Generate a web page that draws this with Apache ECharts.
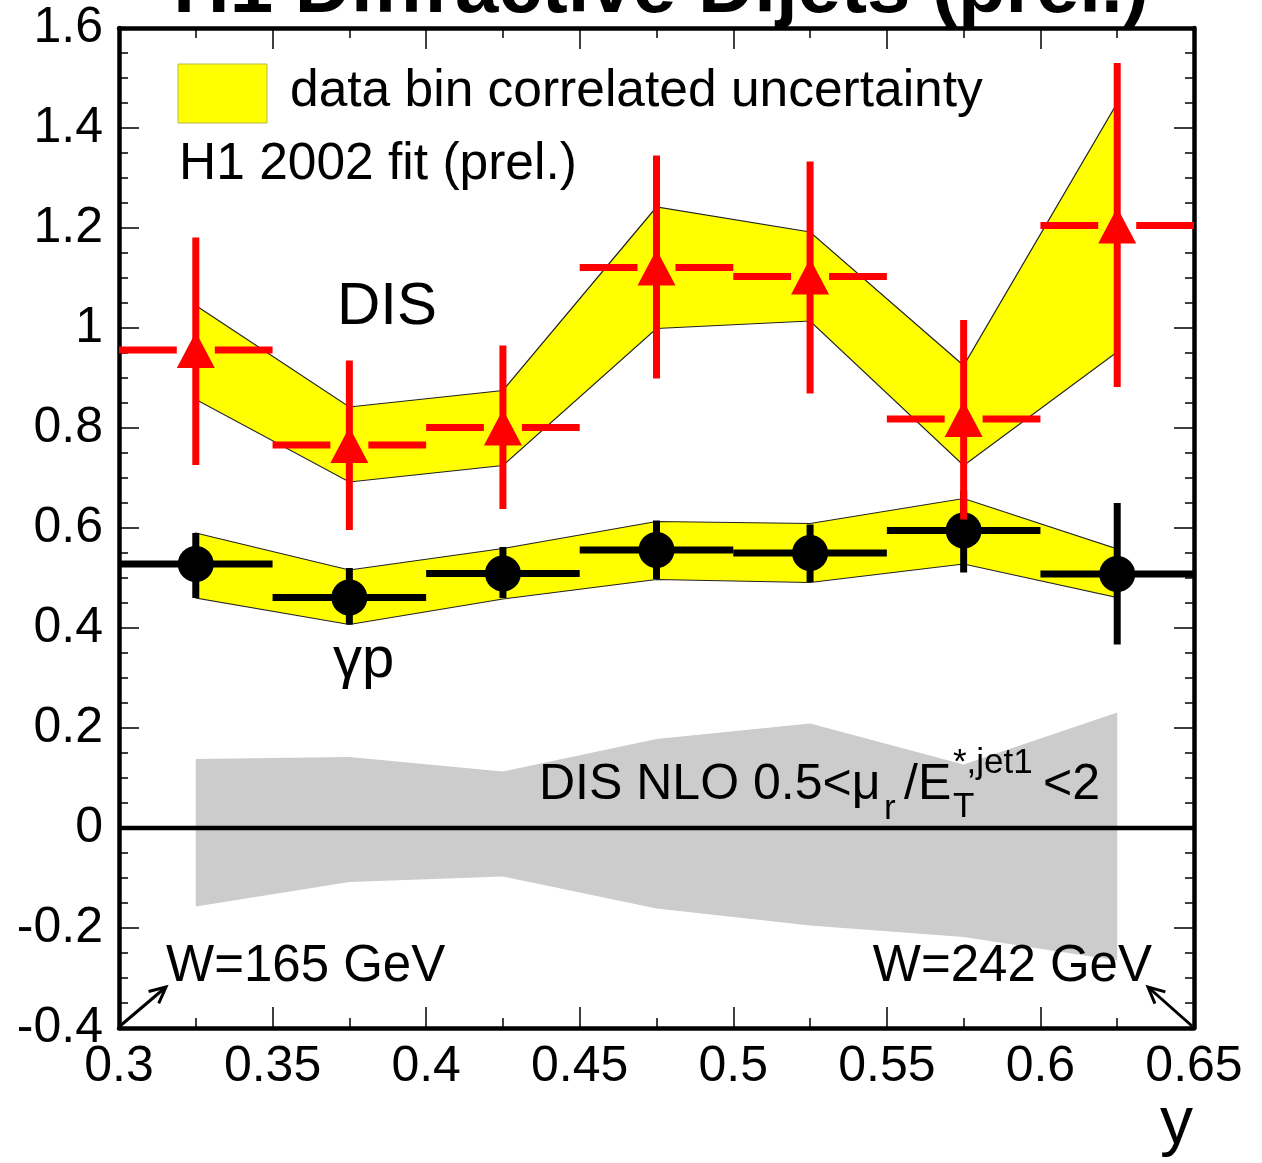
<!DOCTYPE html>
<html>
<head>
<meta charset="utf-8">
<script src="https://cdn.jsdelivr.net/npm/echarts@6/dist/echarts.min.js"></script>
<style>
html,body{margin:0;padding:0;background:#fff;}
#chart{width:1262px;height:1163px;}
</style>
</head>
<body>
<div id="chart"></div>
<script>
// ---- data ----
const yCenters = [0.325, 0.375, 0.425, 0.475, 0.525, 0.575, 0.625];
const binLow   = [0.30, 0.35, 0.40, 0.45, 0.50, 0.55, 0.60];
const binHigh  = [0.35, 0.40, 0.45, 0.50, 0.55, 0.60, 0.65];

const disVal    = [0.956, 0.766, 0.801, 1.121, 1.103, 0.818, 1.205];
const disErrHi  = [1.181, 0.935, 0.965, 1.345, 1.333, 1.016, 1.530];
const disErrLo  = [0.726, 0.596, 0.638, 0.899, 0.869, 0.617, 0.882];
const disBandHi = [1.045, 0.842, 0.875, 1.242, 1.192, 0.925, 1.450];
const disBandLo = [0.857, 0.692, 0.725, 0.999, 1.014, 0.725, 0.952];

const gpVal    = [0.528, 0.461, 0.509, 0.556, 0.550, 0.595, 0.508];
const gpErrHi  = [0.590, 0.520, 0.562, 0.615, 0.607, 0.675, 0.650];
const gpErrLo  = [0.460, 0.407, 0.460, 0.498, 0.492, 0.511, 0.367];
const gpBandHi = [0.590, 0.516, 0.559, 0.613, 0.609, 0.659, 0.558];
const gpBandLo = [0.460, 0.407, 0.458, 0.497, 0.491, 0.528, 0.461];

const nloHi = [0.138, 0.142, 0.113, 0.178, 0.209, 0.127, 0.231];
const nloLo = [-0.157, -0.108, -0.097, -0.161, -0.195, -0.218, -0.265];

const xTickLabels = ['0.3', '0.35', '0.4', '0.45', '0.5', '0.55', '0.6', '0.65'];
const yTickLabels = ['-0.4', '-0.2', '0', '0.2', '0.4', '0.6', '0.8', '1', '1.2', '1.4', '1.6'];
const zeroLine = [[0.3, 0], [0.65, 0]];

// ---- helpers ----
const FONT = 'Liberation Sans, Arial, Helvetica, sans-serif';
const MID = 0.3465; // alphabetic baseline offset below 'middle'

function bandRender(hi, lo, fill, stroke) {
  return function (params, api) {
    const pts = [];
    for (let i = 0; i < yCenters.length; i++) pts.push(api.coord([yCenters[i], hi[i]]));
    for (let i = yCenters.length - 1; i >= 0; i--) pts.push(api.coord([yCenters[i], lo[i]]));
    return {
      type: 'polygon',
      shape: { points: pts },
      style: { fill: fill, stroke: stroke || null, lineWidth: stroke ? 1.2 : 0 }
    };
  };
}

function errRender(color, gap) {
  return function (params, api) {
    const x = api.value(0), v = api.value(1), lo = api.value(2), hi = api.value(3);
    const xl = api.value(4), xh = api.value(5);
    const c = api.coord([x, v]);
    const top = api.coord([x, hi]);
    const bot = api.coord([x, lo]);
    const left = api.coord([xl, v]);
    const right = api.coord([xh, v]);
    const st = { stroke: color, lineWidth: 7, lineCap: 'butt' };
    return {
      type: 'group',
      children: [
        { type: 'line', shape: { x1: top[0], y1: top[1], x2: bot[0], y2: bot[1] }, style: st },
        { type: 'line', shape: { x1: left[0], y1: left[1], x2: c[0] - gap, y2: c[1] }, style: st },
        { type: 'line', shape: { x1: c[0] + gap, y1: c[1], x2: right[0], y2: right[1] }, style: st }
      ]
    };
  };
}

function errData(val, lo, hi) {
  return yCenters.map((x, i) => [x, val[i], lo[i], hi[i], binLow[i], binHigh[i]]);
}

function txt(str, x, baseline, size, opts) {
  opts = opts || {};
  return {
    type: 'text',
    x: x,
    y: baseline - MID * size,
    z: 100,
    style: {
      text: str,
      fill: '#000',
      font: (opts.bold ? 'bold ' : '') + size + 'px ' + FONT,
      align: opts.align || 'left',
      verticalAlign: 'middle'
    }
  };
}

function arrow(x1, y1, x2, y2) {
  const dx = x2 - x1, dy = y2 - y1;
  const L = Math.sqrt(dx * dx + dy * dy);
  const ux = dx / L, uy = dy / L;
  const hl = 18, ang = 0.45;
  const ca = Math.cos(ang), sa = Math.sin(ang);
  const w1 = [x2 - hl * (ux * ca - uy * sa), y2 - hl * (uy * ca + ux * sa)];
  const w2 = [x2 - hl * (ux * ca + uy * sa), y2 - hl * (uy * ca - ux * sa)];
  const st = { stroke: '#000', lineWidth: 3, fill: null };
  return [
    { type: 'line', z: 100, shape: { x1: x1, y1: y1, x2: x2, y2: y2 }, style: st },
    { type: 'polyline', z: 100, shape: { points: [w1, [x2, y2], w2] }, style: st }
  ];
}

const axisCommon = {
  type: 'value',
  axisLine: { show: true, onZero: false, lineStyle: { color: '#000', width: 4.5 } },
  splitLine: { show: false },
  minorSplitLine: { show: false }
};

const chart = echarts.init(document.getElementById('chart'), null, { renderer: 'canvas' });

const option = {
  animation: false,
  backgroundColor: '#fff',
  grid: { left: 119, right: 68, top: 28, bottom: 135, containLabel: false },
  xAxis: [
    Object.assign({}, axisCommon, {
      position: 'bottom', min: 0.3, max: 0.65, interval: 0.05,
      axisTick: { show: true, inside: true, length: 21, lineStyle: { color: '#000', width: 1.5 } },
      minorTick: { show: true, splitNumber: 2, length: 10, lineStyle: { color: '#000', width: 1.5 } },
      axisLabel: {
        show: true, margin: 14, color: '#000', fontSize: 50, fontFamily: FONT,
        formatter: function (v) { return xTickLabels[Math.round((v - 0.3) / 0.05)]; }
      }
    }),
    Object.assign({}, axisCommon, {
      position: 'top', min: 0.3, max: 0.65, interval: 0.05,
      axisTick: { show: true, inside: true, length: 21, lineStyle: { color: '#000', width: 1.5 } },
      minorTick: { show: true, splitNumber: 2, length: 10, lineStyle: { color: '#000', width: 1.5 } },
      axisLabel: { show: false }
    })
  ],
  yAxis: [
    Object.assign({}, axisCommon, {
      position: 'left', min: -0.4, max: 1.6, interval: 0.2,
      axisTick: { show: true, inside: true, length: 20, lineStyle: { color: '#000', width: 1.5 } },
      minorTick: { show: true, splitNumber: 4, length: 9, lineStyle: { color: '#000', width: 1.5 } },
      axisLabel: {
        show: true, margin: 16, color: '#000', fontSize: 50, fontFamily: FONT,
        formatter: function (v) { return yTickLabels[Math.round((v + 0.4) / 0.2)]; }
      }
    }),
    Object.assign({}, axisCommon, {
      position: 'right', min: -0.4, max: 1.6, interval: 0.2,
      axisTick: { show: true, inside: true, length: 20, lineStyle: { color: '#000', width: 1.5 } },
      minorTick: { show: true, splitNumber: 4, length: 9, lineStyle: { color: '#000', width: 1.5 } },
      axisLabel: { show: false }
    })
  ],
  series: [
    { type: 'custom', name: 'NLO', z: 1, data: [[0.475, 0]], renderItem: bandRender(nloHi, nloLo, '#cccccc', null), silent: true },
    { type: 'custom', name: 'DIS band', z: 2, data: [[0.475, 1]], renderItem: bandRender(disBandHi, disBandLo, '#ffff00', '#222'), silent: true },
    { type: 'custom', name: 'gp band', z: 2, data: [[0.475, 0.5]], renderItem: bandRender(gpBandHi, gpBandLo, '#ffff00', '#222'), silent: true },
    { type: 'line', name: 'zero', z: 3, data: zeroLine, symbol: 'none', lineStyle: { color: '#000', width: 4.5 }, silent: true },
    { type: 'custom', name: 'gp err', z: 4, data: errData(gpVal, gpErrLo, gpErrHi), renderItem: errRender('#000', 0), silent: true },
    { type: 'scatter', name: 'gp', z: 5, data: yCenters.map((x, i) => [x, gpVal[i]]), symbol: 'circle', symbolSize: 36, itemStyle: { color: '#000', opacity: 1 }, silent: true },
    { type: 'custom', name: 'DIS err', z: 6, data: errData(disVal, disErrLo, disErrHi), renderItem: errRender('#ff0000', 19), silent: true },
    { type: 'scatter', name: 'DIS', z: 7, data: yCenters.map((x, i) => [x, disVal[i]]), symbol: 'triangle', symbolSize: [38, 36], itemStyle: { color: '#ff0000', opacity: 1 }, silent: true }
  ],
  graphic: [
    txt('H1 Diffractive Dijets (prel.)', 661, 18, 78, { bold: true, align: 'center' }),
    { type: 'rect', z: 100, shape: { x: 178, y: 64, width: 89, height: 59 }, style: { fill: '#ffff00', stroke: '#b8b850', lineWidth: 1 } },
    txt('data bin correlated uncertainty', 290, 110, 51.5),
    txt('H1 2002 fit (prel.)', 179, 183, 51.5),
    txt('DIS', 337, 328, 60),
    txt('\u03b3p', 333, 681, 58),
    txt('DIS NLO 0.5<\u03bc', 539, 803, 50),
    txt('r', 884, 821, 35),
    txt('/E', 904, 803, 50),
    txt('T', 953, 819, 35),
    txt('*,jet1', 953, 775, 35),
    txt('<2', 1043, 803, 50),
    txt('W=165 GeV', 166, 985, 51),
    txt('W=242 GeV', 1152, 985, 51, { align: 'right' }),
    txt('y', 1193, 1148, 66, { align: 'right' })
  ].concat(arrow(120, 1026, 166, 987)).concat(arrow(1192, 1026, 1148, 987))
};

chart.setOption(option);
</script>
</body>
</html>
